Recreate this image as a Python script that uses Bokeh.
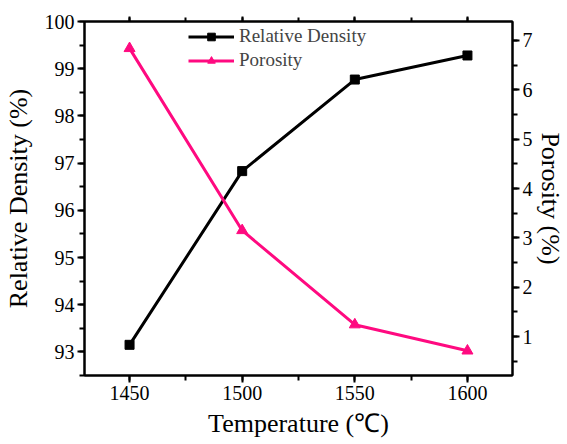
from bokeh.plotting import figure
from bokeh.models import (Range1d, LinearAxis, SingleIntervalTicker, Legend, LegendItem,
                          CustomJSTickFormatter)
from bokeh.embed import file_html
from bokeh.resources import INLINE

temperature = [1450, 1500, 1550, 1600]
relative_density = [93.15, 96.83, 98.77, 99.28]
porosity = [6.84, 3.15, 1.24, 0.71]

FONT = "Liberation Serif"
PINK = "#FF0A80"

p = figure(width=567, height=444, output_backend="svg", toolbar_location=None,
           x_range=Range1d(1430, 1620), y_range=Range1d(92.5, 100),
           min_border_left=82, min_border_right=48, min_border_top=21, min_border_bottom=69,
           x_axis_location=None, y_axis_location=None)
p.extra_y_ranges = {"por": Range1d(0.21, 7.385)}
p.xgrid.visible = False
p.ygrid.visible = False
p.outline_line_color = "black"
p.outline_line_width = 2
p.background_fill_color = "white"
p.border_fill_color = "white"


def style(ax):
    ax.axis_line_width = 2
    ax.major_tick_line_width = 2
    ax.minor_tick_line_width = 2
    ax.major_tick_in = 0
    ax.minor_tick_in = 0
    ax.major_tick_out = 7
    ax.minor_tick_out = 5
    ax.major_label_text_font = FONT
    ax.major_label_text_font_size = "20px"
    ax.major_label_text_color = "black"
    ax.axis_label_text_font = FONT
    ax.axis_label_text_font_size = "26px"
    ax.axis_label_text_font_style = "normal"
    ax.axis_label_text_color = "black"


xb = LinearAxis(ticker=SingleIntervalTicker(interval=50, num_minor_ticks=2),
                axis_label="Temperature (\u2103)")
style(xb)
xb.major_label_standoff = 3
xb.axis_label_standoff = 6
p.add_layout(xb, "below")

xt = LinearAxis(ticker=SingleIntervalTicker(interval=50, num_minor_ticks=2),
                formatter=CustomJSTickFormatter(code="return ''"))
style(xt)
xt.major_tick_out = 5
xt.minor_tick_out = 4
xt.major_label_standoff = 0
p.add_layout(xt, "above")

yl = LinearAxis(ticker=SingleIntervalTicker(interval=1, num_minor_ticks=2),
                axis_label="Relative Density (%)")
style(yl)
yl.major_label_standoff = 3
yl.axis_label_standoff = 9
p.add_layout(yl, "left")

yr = LinearAxis(y_range_name="por", ticker=SingleIntervalTicker(interval=1, num_minor_ticks=2),
                axis_label="Porosity (%)")
style(yr)
yr.major_label_standoff = 3
yr.axis_label_standoff = 0
p.add_layout(yr, "right")

l1 = p.line(temperature, relative_density, line_color="black", line_width=3)
m1 = p.scatter(temperature, relative_density, marker="square", size=9,
               fill_color="black", line_color="black")
l2 = p.line(temperature, porosity, line_color=PINK, line_width=3, y_range_name="por")
m2 = p.scatter(temperature, porosity, marker="triangle", size=11,
               fill_color=PINK, line_color=PINK, y_range_name="por")

legend = Legend(items=[LegendItem(label="Relative Density", renderers=[l1, m1]),
                       LegendItem(label="Porosity", renderers=[l2, m2])],
                location=(104, 304), border_line_color=None, background_fill_alpha=0,
                label_text_font=FONT, label_text_font_size="19px",
                glyph_width=46, glyph_height=19, label_standoff=5, spacing=2,
                padding=0, margin=0, label_height=19)
p.add_layout(legend, "center")

open("out.html", "w").write(file_html(p, INLINE))
